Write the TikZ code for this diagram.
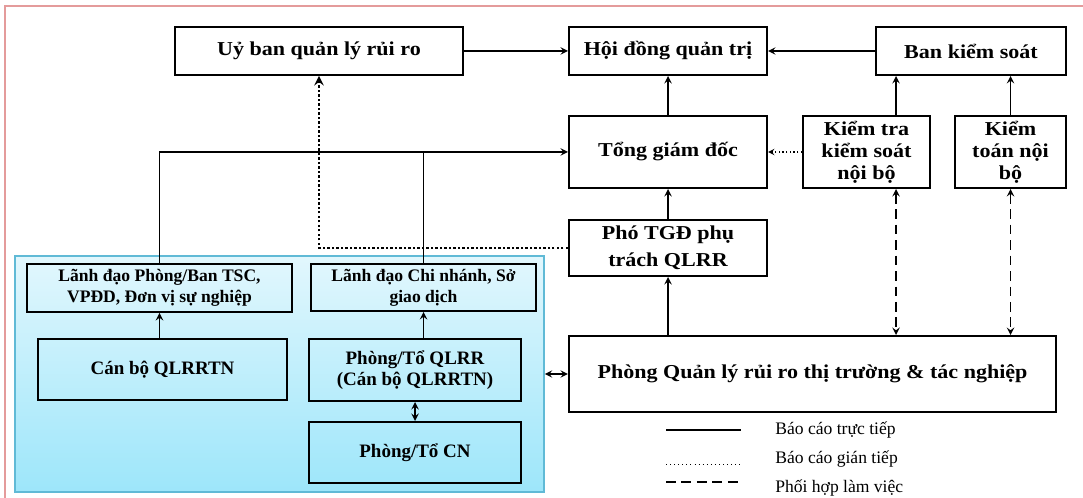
\documentclass[tikz,border=0pt]{standalone}
\usepackage{fontspec}
\setmainfont{Liberation Serif}
\newfontfamily\boxfont{Liberation Serif}[FakeStretch=1.12]
\usetikzlibrary{arrows, positioning}

\definecolor{panelTop}{RGB}{226,247,253}
\definecolor{panelBot}{RGB}{157,230,250}
\definecolor{panelEdge}{RGB}{96,186,214}
\definecolor{frameRed}{RGB}{228,155,155}

\begin{document}
\begin{tikzpicture}[x=0.025cm, y=-0.025cm, >=stealth,
	every node/.style={inner sep=0pt, align=center},
	box/.style={draw, line width=1.4pt, font=\boxfont\fontsize{14}{17}\selectfont\bfseries},
	subbox/.style={draw, line width=1.4pt, font=\fontsize{12.5}{15}\selectfont\bfseries},
	unitbox/.style={draw, line width=1.4pt, font=\fontsize{13.5}{15}\selectfont\bfseries},
	panel/.style={draw=panelEdge, line width=1pt, top color=panelTop, bottom color=panelBot, minimum width=13.225cm, minimum height=5.9cm},
	legend/.style={anchor=west, font=\fontsize{12.5}{15}\selectfont},
	direct/.style={->, line width=1.3pt},
	indirect/.style={->, line width=1pt, dash pattern=on 1pt off 1.6pt},
	indirectthick/.style={->, line width=1.9pt, dash pattern=on 1.6pt off 1.6pt},
	coop/.style={<->, line width=1.3pt, dash pattern=on 7pt off 4pt}]

		\useasboundingbox (0,0) rectangle (1083,498);
		\draw [frameRed, line width=1.2pt] (5,498) -- (5,6) -- (1083,6);

		\node [panel] (P) at (279.5,374) {};

		\node [box, minimum width=7.2cm, minimum height=1.2cm] (UB) at (319,51) {Uỷ ban quản lý rủi ro};
		\node [box, minimum width=4.95cm, minimum height=1.2cm] (HD) at (668,51) {Hội đồng quản trị};
		\node [box, minimum width=4.75cm, minimum height=1.2cm] (BKS) at (971,51) {Ban kiểm soát};
		\node [box, minimum width=4.95cm, minimum height=1.8cm] (TGD) at (668,152) {Tổng giám đốc};
		\node [box, minimum width=3.175cm, minimum height=1.8cm, font=\boxfont\fontsize{14}{15.5}\selectfont\bfseries] (KT) at (866.5,152) {Kiểm tra\\kiểm soát\\nội bộ};
		\node [box, minimum width=2.775cm, minimum height=1.8cm, font=\boxfont\fontsize{14}{15.5}\selectfont\bfseries] (KTNB) at (1010.5,152) {Kiểm\\toán nội\\bộ};
		\node [box, minimum width=4.95cm, minimum height=1.4cm, font=\boxfont\fontsize{14}{19}\selectfont\bfseries] (PTGD) at (668,248) {Phó TGĐ phụ\\trách QLRR};
		\node [box, minimum width=12.175cm, minimum height=1.9cm] (PQL) at (812.5,374) {Phòng Quản lý rủi ro thị trường \& tác nghiệp};

		\node [subbox, minimum width=6.625cm, minimum height=1.2cm] (LDP) at (159.5,288) {Lãnh đạo Phòng/Ban TSC,\\VPĐD, Đơn vị sự nghiệp};
		\node [subbox, minimum width=5.625cm, minimum height=1.175cm] (LDCN) at (423.5,287.5) {Lãnh đạo Chi nhánh, Sở\\giao dịch};
		\node [unitbox, minimum width=6.225cm, minimum height=1.525cm] (CB) at (162.5,369.5) {Cán bộ QLRRTN};
		\node [unitbox, minimum width=5.3cm, minimum height=1.55cm] (QLRR) at (415,370) {Phòng/Tổ QLRR\\(Cán bộ QLRRTN)};
		\node [unitbox, minimum width=5.3cm, minimum height=1.525cm] (CN) at (415,452.5) {Phòng/Tổ CN};

		\coordinate (xKT) at (896,0);

		\draw [direct] (UB.east) -- (HD.west);
		\draw [direct] (BKS.west) -- (HD.east);
		\draw [direct] (TGD) -- (HD);
		\draw [direct] (xKT |- KT.north) -- (xKT |- BKS.south);
		\draw [direct] (KTNB.north) -- (KTNB.north |- BKS.south);
		\draw [indirect] (KT.west) -- (TGD.east);
		\draw [direct] (PTGD) -- (TGD);
		\draw [direct] (PTGD.south |- PQL.north) -- (PTGD.south);
		\draw [coop] (xKT |- KT.south) -- (xKT |- PQL.north);
		\draw [coop] (KTNB.south) -- (KTNB.south |- PQL.north);
		\draw [indirectthick] (PTGD.west) -| (UB.south);
		\draw [direct] (LDP.north) |- (TGD.west);
		\draw [line width=1.3pt] (LDCN.north) -- (LDCN.north |- TGD.west);
		\draw [direct] (LDP.south |- CB.north) -- (LDP.south);
		\draw [direct] (LDCN.south |- QLRR.north) -- (LDCN.south);
		\draw [<->, line width=1.3pt] (QLRR) -- (CN);
		\draw [<->, line width=1.3pt] (P.east) -- (PQL.west);

		\node [legend] (L1) at (775,430) {Báo cáo trực tiếp};
		\node [legend] (L2) at (775,459) {Báo cáo gián tiếp};
		\node [legend] (L3) at (775,488) {Phối hợp làm việc};
		\coordinate (a1) at (666,430);
		\coordinate (a2) at (666,464);
		\coordinate (a3) at (666,482);
		\draw [line width=1.3pt] (a1) -- ++(75,0);
		\draw [line width=0.7pt, dash pattern=on 0.7pt off 2.2pt] (a2) -- ++(75,0);
		\draw [line width=1.3pt, dash pattern=on 7pt off 4pt] (a3) -- ++(75,0);

\end{tikzpicture}
\end{document}
